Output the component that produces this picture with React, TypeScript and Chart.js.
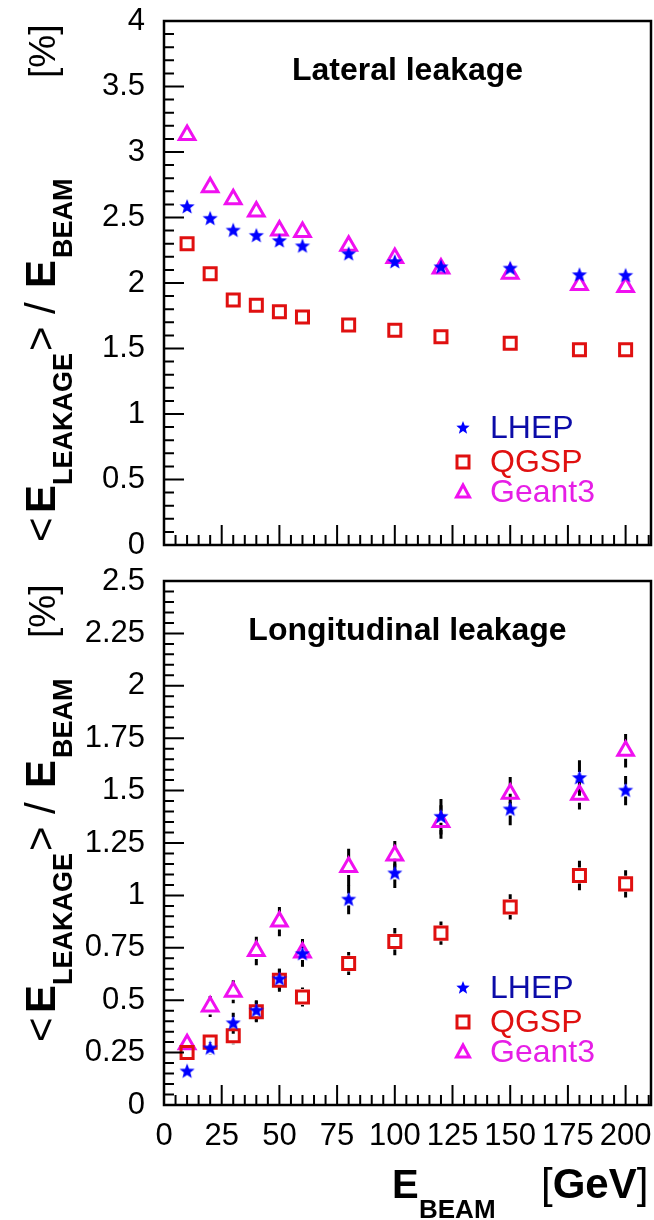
import React, { useEffect, useRef } from 'react';
import { Chart, registerables } from 'chart.js';

Chart.register(...registerables);

// ---------------- data ----------------
const ENERGIES = [10, 20, 30, 40, 50, 60, 80, 100, 120, 150, 180, 200];

const LAT_LHEP = [2.58, 2.49, 2.40, 2.36, 2.32, 2.28, 2.22, 2.16, 2.12, 2.11, 2.06, 2.055];
const LAT_QGSP = [2.30, 2.07, 1.87, 1.83, 1.78, 1.74, 1.68, 1.64, 1.59, 1.54, 1.49, 1.49];
const LAT_GEANT3 = [3.13, 2.73, 2.64, 2.545, 2.40, 2.39, 2.285, 2.19, 2.11, 2.07, 1.985, 1.97];

const LON_LHEP = [0.16, 0.27, 0.39, 0.45, 0.60, 0.72, 0.98, 1.105, 1.375, 1.41, 1.56, 1.50];
const LON_QGSP = [0.25, 0.30, 0.33, 0.445, 0.595, 0.515, 0.675, 0.78, 0.82, 0.945, 1.095, 1.055];
const LON_GEANT3 = [0.29, 0.47, 0.54, 0.735, 0.875, 0.727, 1.135, 1.19, 1.35, 1.485, 1.48, 1.69];

const LON_LHEP_ERR = [0.02, 0.03, 0.05, 0.05, 0.05, 0.06, 0.07, 0.07, 0.085, 0.075, 0.085, 0.07];
const LON_QGSP_ERR = [0.03, 0.03, 0.04, 0.05, 0.055, 0.045, 0.055, 0.065, 0.055, 0.06, 0.07, 0.065];
const LON_GEANT3_ERR = [0.03, 0.05, 0.055, 0.068, 0.07, 0.065, 0.088, 0.07, 0.08, 0.08, 0.07, 0.08];

const X_TICKS = [0, 25, 50, 75, 100, 125, 150, 175, 200];
const LAT_Y_TICKS = [0, 0.5, 1, 1.5, 2, 2.5, 3, 3.5, 4];
const LON_Y_TICKS = [0, 0.25, 0.5, 0.75, 1, 1.25, 1.5, 1.75, 2, 2.25, 2.5];

const SERIES_NAMES = ['LHEP', 'QGSP', 'Geant3'];
const TITLES = ['Lateral leakage', 'Longitudinal leakage'];

// ---------------- styles ----------------
const FONT = '"Liberation Sans", Arial, Helvetica, sans-serif';
const C_BLUE = '#0000ff';
const C_RED = '#e01010';
const C_MAG = '#f010f0';
const TEXT_COLORS = ['#0c0ca8', '#e01010', '#e61ee6'];

function makeStar(color: string, R: number, r: number): HTMLCanvasElement {
  const size = Math.ceil(R * 2 + 2);
  const c = document.createElement('canvas');
  c.width = size;
  c.height = size;
  const g = c.getContext('2d')!;
  const cx = size / 2, cy = size / 2;
  g.beginPath();
  for (let i = 0; i < 10; i++) {
    const rad = (Math.PI / 5) * i - Math.PI / 2;
    const rr = i % 2 === 0 ? R : r;
    const x = cx + Math.cos(rad) * rr;
    const y = cy + Math.sin(rad) * rr;
    if (i === 0) g.moveTo(x, y); else g.lineTo(x, y);
  }
  g.closePath();
  g.fillStyle = color;
  g.fill();
  return c;
}

function fmt(v: number): string {
  return String(parseFloat(v.toFixed(2)));
}

function rotText(ctx: CanvasRenderingContext2D, text: string, font: string, startY: number, baseX: number) {
  ctx.save();
  ctx.translate(baseX, startY);
  ctx.rotate(-Math.PI / 2);
  ctx.font = font;
  ctx.textAlign = 'left';
  ctx.textBaseline = 'alphabetic';
  ctx.fillStyle = '#000';
  ctx.fillText(text, 0, 0);
  ctx.restore();
}

interface PanelProps {
  top: number;
  height: number;
  yMax: number;
  yTicks: number[];
  yMinor: number;
  title: string;
  lhep: number[];
  qgsp: number[];
  geant3: number[];
  errs?: number[][];
  showX: boolean;
  yTitleStart: number;
}

function Panel(p: PanelProps) {
  const ref = useRef<HTMLCanvasElement>(null);
  useEffect(() => {
    const star = makeStar(C_BLUE, 8, 3.4);
    const legendStar = makeStar(C_BLUE, 7, 3);
    const xAxisH = p.height - 545;

    const plugin = {
      id: 'rootStyle',
      beforeDatasetsDraw(chart: any) {
        if (!p.errs) return;
        const ctx = chart.ctx as CanvasRenderingContext2D;
        const xs = chart.scales.x, ys = chart.scales.y;
        const vals = [p.lhep, p.qgsp, p.geant3];
        const gaps = [6, 8, 8];
        ctx.save();
        ctx.strokeStyle = '#000';
        ctx.lineWidth = 3;
        vals.forEach((arr, si) => {
          arr.forEach((v, i) => {
            const e = p.errs![si][i];
            const px = xs.getPixelForValue(ENERGIES[i]);
            const py = ys.getPixelForValue(v);
            const pTop = ys.getPixelForValue(v + e);
            const pBot = ys.getPixelForValue(v - e);
            const g = gaps[si];
            ctx.beginPath();
            if (py - pTop > g) { ctx.moveTo(px, pTop); ctx.lineTo(px, py - g); }
            if (pBot - py > g) { ctx.moveTo(px, py + g); ctx.lineTo(px, pBot); }
            ctx.stroke();
          });
        });
        ctx.restore();
      },
      afterDraw(chart: any) {
        const ctx = chart.ctx as CanvasRenderingContext2D;
        const a = chart.chartArea;
        const xs = chart.scales.x, ys = chart.scales.y;
        ctx.save();
        // frame
        ctx.strokeStyle = '#000';
        ctx.lineWidth = 2.5;
        ctx.strokeRect(a.left, a.top, a.right - a.left, a.bottom - a.top);
        // ticks
        ctx.lineWidth = 2;
        ctx.beginPath();
        for (let i = 0; i * 5 <= xs.max + 1e-9; i++) {
          const v = i * 5;
          const px = xs.getPixelForValue(v);
          const len = i % 5 === 0 ? 20 : 10;
          ctx.moveTo(px, a.bottom);
          ctx.lineTo(px, a.bottom - len);
        }
        const nMinor = Math.round(p.yMax / p.yMinor);
        const perMajor = Math.round((p.yTicks[1] - p.yTicks[0]) / p.yMinor);
        for (let i = 0; i <= nMinor; i++) {
          const py = ys.getPixelForValue(i * p.yMinor);
          const len = i % perMajor === 0 ? 20 : 10;
          ctx.moveTo(a.left, py);
          ctx.lineTo(a.left + len, py);
        }
        ctx.stroke();

        // title
        ctx.fillStyle = '#000';
        ctx.font = `bold 32px ${FONT}`;
        ctx.textAlign = 'center';
        ctx.textBaseline = 'alphabetic';
        ctx.fillText(p.title, (a.left + a.right) / 2, a.top + 59);

        // legend
        const rows = [a.bottom - 117, a.bottom - 83, a.bottom - 53];
        const mx = 463, tx = 490;
        ctx.drawImage(legendStar, mx - legendStar.width / 2, rows[0] - legendStar.height / 2);
        ctx.strokeStyle = C_RED;
        ctx.lineWidth = 3;
        ctx.strokeRect(mx - 6, rows[1] - 6, 12, 12);
        ctx.strokeStyle = C_MAG;
        ctx.beginPath();
        ctx.moveTo(mx, rows[2] - 7);
        ctx.lineTo(mx + 6.5, rows[2] + 5);
        ctx.lineTo(mx - 6.5, rows[2] + 5);
        ctx.closePath();
        ctx.stroke();
        ctx.font = `32px ${FONT}`;
        ctx.textAlign = 'left';
        ctx.textBaseline = 'middle';
        SERIES_NAMES.forEach((n, i) => {
          ctx.fillStyle = TEXT_COLORS[i];
          ctx.fillText(n, tx, rows[i] + 1);
        });

        // y-axis title
        const s = p.yTitleStart;
        const big = `42px ${FONT}`;
        const bigB = `bold 42px ${FONT}`;
        const subB = `bold 27px ${FONT}`;
        rotText(ctx, '<', big, s, 55);
        rotText(ctx, 'E', bigB, s - 29, 55);
        rotText(ctx, 'LEAKAGE', subB, s - 57, 72);
        rotText(ctx, '>', big, s - 191, 55);
        rotText(ctx, '/', big, s - 228, 55);
        rotText(ctx, 'E', bigB, s - 254, 55);
        rotText(ctx, 'BEAM', subB, s - 284, 72);
        rotText(ctx, '[%]', `37px ${FONT}`, 78, 55);

        // x-axis title
        if (p.showX) {
          ctx.fillStyle = '#000';
          ctx.textAlign = 'left';
          ctx.textBaseline = 'alphabetic';
          ctx.font = `bold 40px ${FONT}`;
          ctx.fillText('E', 392, 638);
          ctx.font = `bold 26px ${FONT}`;
          ctx.fillText('BEAM', 419, 658);
          let x = 541;
          ctx.font = `42px ${FONT}`;
          ctx.fillText('[', x, 638);
          x += ctx.measureText('[').width;
          ctx.font = `bold 42px ${FONT}`;
          ctx.fillText('GeV', x, 638);
          x += ctx.measureText('GeV').width;
          ctx.font = `42px ${FONT}`;
          ctx.fillText(']', x, 638);
        }
        ctx.restore();
      },
    };

    const mk = (arr: number[]) => arr.map((v, i) => ({ x: ENERGIES[i], y: v }));

    const chart = new Chart(ref.current!, {
      type: 'scatter',
      data: {
        datasets: [
          {
            label: SERIES_NAMES[0],
            data: mk(p.lhep),
            pointStyle: star as any,
            pointRadius: 7,
            borderWidth: 0,
            backgroundColor: C_BLUE,
            borderColor: C_BLUE,
          },
          {
            label: SERIES_NAMES[1],
            data: mk(p.qgsp),
            pointStyle: 'rect',
            pointRadius: 8.5,
            borderWidth: 3,
            backgroundColor: 'rgba(0,0,0,0)',
            borderColor: C_RED,
          },
          {
            label: SERIES_NAMES[2],
            data: mk(p.geant3),
            pointStyle: 'triangle',
            pointRadius: 9,
            borderWidth: 3,
            backgroundColor: 'rgba(0,0,0,0)',
            borderColor: C_MAG,
          },
        ],
      },
      options: {
        responsive: false,
        animation: false,
        events: [],
        layout: { autoPadding: false, padding: { top: 21, right: 3, left: 0, bottom: 0 } },
        plugins: { legend: { display: false }, tooltip: { enabled: false } },
        scales: {
          x: {
            type: 'linear',
            min: 0,
            max: 211,
            afterBuildTicks: (s: any) => { s.ticks = X_TICKS.map((v) => ({ value: v })); },
            afterFit: (s: any) => { s.height = xAxisH; s.paddingLeft = 0; s.paddingRight = 0; },
            grid: { display: false, drawTicks: false },
            border: { display: false },
            ticks: {
              display: p.showX,
              autoSkip: false,
              maxRotation: 0,
              padding: 13,
              color: '#000',
              font: { family: FONT, size: 31 },
              callback: (v: any) => fmt(Number(v)),
            },
          },
          y: {
            type: 'linear',
            min: 0,
            max: p.yMax,
            afterBuildTicks: (s: any) => { s.ticks = p.yTicks.map((v) => ({ value: v })); },
            afterFit: (s: any) => { s.width = 164; s.paddingTop = 0; s.paddingBottom = 0; },
            grid: { display: false, drawTicks: false },
            border: { display: false },
            ticks: {
              autoSkip: false,
              padding: 19,
              color: '#000',
              font: { family: FONT, size: 31 },
              callback: (v: any) => fmt(Number(v)),
            },
          },
        },
      },
      plugins: [plugin],
    } as any);
    return () => chart.destroy();
  }, []);
  return (
    <canvas
      ref={ref}
      width={654}
      height={p.height}
      style={{ position: 'absolute', left: 0, top: p.top, width: 654, height: p.height, display: 'block' }}
    />
  );
}

export default function App() {
  return (
    <div style={{ position: 'absolute', left: 0, top: 0, width: 654, height: 1220, background: '#ffffff', overflow: 'hidden' }}>
      <Panel
        top={0}
        height={560}
        yMax={4}
        yTicks={LAT_Y_TICKS}
        yMinor={0.1}
        title={TITLES[0]}
        lhep={LAT_LHEP}
        qgsp={LAT_QGSP}
        geant3={LAT_GEANT3}
        showX={false}
        yTitleStart={542}
      />
      <Panel
        top={560}
        height={660}
        yMax={2.5}
        yTicks={LON_Y_TICKS}
        yMinor={0.05}
        title={TITLES[1]}
        lhep={LON_LHEP}
        qgsp={LON_QGSP}
        geant3={LON_GEANT3}
        errs={[LON_LHEP_ERR, LON_QGSP_ERR, LON_GEANT3_ERR]}
        showX={true}
        yTitleStart={482}
      />
    </div>
  );
}
